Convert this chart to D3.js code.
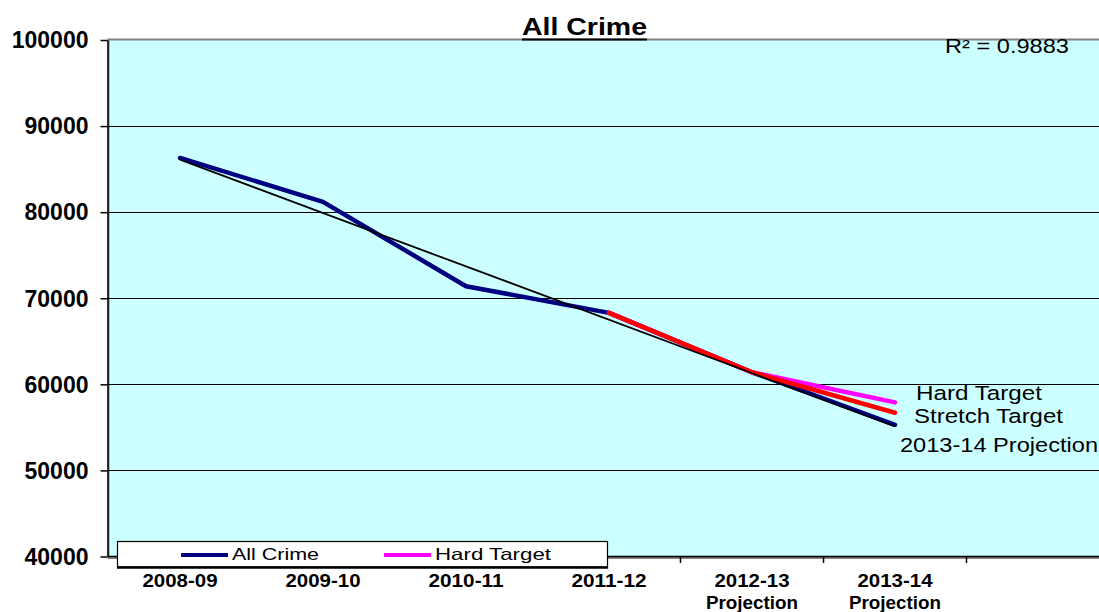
<!DOCTYPE html>
<html><head><meta charset="utf-8">
<script src="https://cdn.jsdelivr.net/npm/d3@7"></script>
<style>
body{margin:0;background:#fff;}
svg{display:block;font-family:Arial,"Liberation Sans",sans-serif;}
</style>
</head><body>
<svg id="c" width="1099" height="612"></svg>
<script>
// ---- data ----
const categories = ["2008-09","2009-10","2010-11","2011-12","2012-13","2013-14",""];
const categorySubLabels = ["","","","","Projection","Projection",""];
const allCrime = [86300,81200,71400,68300,61400,55300];
const hardTarget = [null,null,null,68300,61400,57900];
const stretchTarget = [null,null,null,68300,61400,56700];
const trendCats = ["2008-09","2013-14"];
const trendValues = [86100,55100];
const yTicks = [40000,50000,60000,70000,80000,90000,100000];
const chartTitle = "All Crime";
const rSquaredText = "R\u00B2 = 0.9883";
const legendLabels = ["All Crime","Hard Target"];
const endLabels = ["Hard Target","Stretch Target","2013-14 Projection"];

// ---- setup ----
const svg = d3.select("#c");
const W = 1099;
const x = d3.scaleBand().domain(categories).range([108.5,1109.5]).padding(0);
const y = d3.scaleLinear().domain([40000,100000]).range([556.5,40]);
const cx = c => x(c) + x.bandwidth()/2;

// plot area
svg.append("rect").attr("x",108.5).attr("y",39.5)
  .attr("width",1001).attr("height",518.5)
  .attr("fill","#CCFFFF").attr("stroke","#808080").attr("stroke-width",2);

// gridlines
svg.append("g").selectAll("line")
  .data(yTicks.filter(v => v>40000 && v<100000))
  .join("line")
  .attr("x1",108).attr("x2",W)
  .attr("y1",d=>Math.round(y(d))+0.5).attr("y2",d=>Math.round(y(d))+0.5)
  .attr("stroke","#000").attr("stroke-width",1);

// y axis
const yAxis = svg.append("g").attr("transform","translate(107.5,0)")
  .call(d3.axisLeft(y).tickValues(yTicks).tickSize(7).tickSizeOuter(0).tickPadding(12).tickFormat(d=>String(d)));
yAxis.select(".domain").attr("stroke","#000").attr("stroke-width",1.5);
yAxis.selectAll(".tick line").attr("stroke","#000").attr("stroke-width",1.5);
yAxis.selectAll(".tick text").attr("font-size",23).attr("font-weight","bold")
  .attr("font-family","Arial, 'Liberation Sans', sans-serif").attr("fill","#000").attr("dy","0.34em");

// x axis line and ticks
svg.append("line").attr("x1",108).attr("x2",W).attr("y1",556.5).attr("y2",556.5)
  .attr("stroke","#000").attr("stroke-width",1.5);
svg.append("g").selectAll("line").data(categories.slice(1))
  .join("line")
  .attr("x1",d=>x(d)).attr("x2",d=>x(d)).attr("y1",556.5).attr("y2",563)
  .attr("stroke","#000").attr("stroke-width",1.5);

// x labels
const xl = svg.append("g");
categories.forEach((c,i)=>{
  if(c){
    xl.append("text").attr("x",cx(c)).attr("y",587).attr("text-anchor","middle")
      .attr("font-size",18).attr("font-weight","bold")
      .attr("textLength",75).attr("lengthAdjust","spacingAndGlyphs").text(c);
  }
  if(categorySubLabels[i]){
    xl.append("text").attr("x",cx(c)).attr("y",609).attr("text-anchor","middle")
      .attr("font-size",18).attr("font-weight","bold")
      .attr("textLength",92).attr("lengthAdjust","spacingAndGlyphs").text(categorySubLabels[i]);
  }
});

// lines
const line = d3.line().defined(d=>d!=null)
  .x((d,i)=>cx(categories[i])).y(d=>y(d));
function drawSeries(vals,color,w){
  svg.append("path").datum(vals).attr("d",line)
    .attr("fill","none").attr("stroke",color).attr("stroke-width",w)
    .attr("stroke-linejoin","round").attr("stroke-linecap","round");
}
drawSeries(allCrime,"#000080",4.5);
drawSeries(hardTarget,"#FF00FF",4.5);
drawSeries(stretchTarget,"#FF0000",4.5);
svg.append("path").datum(trendValues)
  .attr("d",d3.line().x((d,i)=>cx(trendCats[i])).y(d=>y(d)))
  .attr("fill","none").attr("stroke","#000").attr("stroke-width",1.8);

// end labels
const endPos = [[916,400],[914,422.5],[900,451.7]];
const endLen = [126,149,198];
endLabels.forEach((t,i)=>{
  svg.append("text").attr("x",endPos[i][0]).attr("y",endPos[i][1])
    .attr("font-size",20.5).attr("textLength",endLen[i]).attr("lengthAdjust","spacingAndGlyphs")
    .attr("fill","#000").text(t);
});

// R squared
svg.append("text").attr("x",945).attr("y",53).attr("font-size",19.5)
  .attr("textLength",124).attr("lengthAdjust","spacingAndGlyphs").text(rSquaredText);

// title
svg.append("text").attr("x",522).attr("y",35).attr("font-size",24.5).attr("font-weight","bold")
  .attr("textLength",125).attr("lengthAdjust","spacingAndGlyphs").text(chartTitle);
svg.append("line").attr("x1",522).attr("x2",647).attr("y1",39.5).attr("y2",39.5)
  .attr("stroke","#000").attr("stroke-width",2.2);

// legend
const lg = svg.append("g");
lg.append("rect").attr("x",117.5).attr("y",541.5).attr("width",490).attr("height",25.5)
  .attr("fill","#fff").attr("stroke","#000").attr("stroke-width",1.2);
lg.append("line").attr("x1",117).attr("x2",608).attr("y1",567.5).attr("y2",567.5)
  .attr("stroke","#000").attr("stroke-width",2.5);
const legendColors = ["#000080","#FF00FF"];
const legendSampleX = [181,384];
const legendTextLen = [87,116];
legendLabels.forEach((t,i)=>{
  lg.append("line").attr("x1",legendSampleX[i]).attr("x2",legendSampleX[i]+47)
    .attr("y1",555).attr("y2",555).attr("stroke",legendColors[i]).attr("stroke-width",4);
  lg.append("text").attr("x",legendSampleX[i]+51).attr("y",560).attr("font-size",16.5)
    .attr("textLength",legendTextLen[i]).attr("lengthAdjust","spacingAndGlyphs").text(t);
});
</script>
</body></html>
